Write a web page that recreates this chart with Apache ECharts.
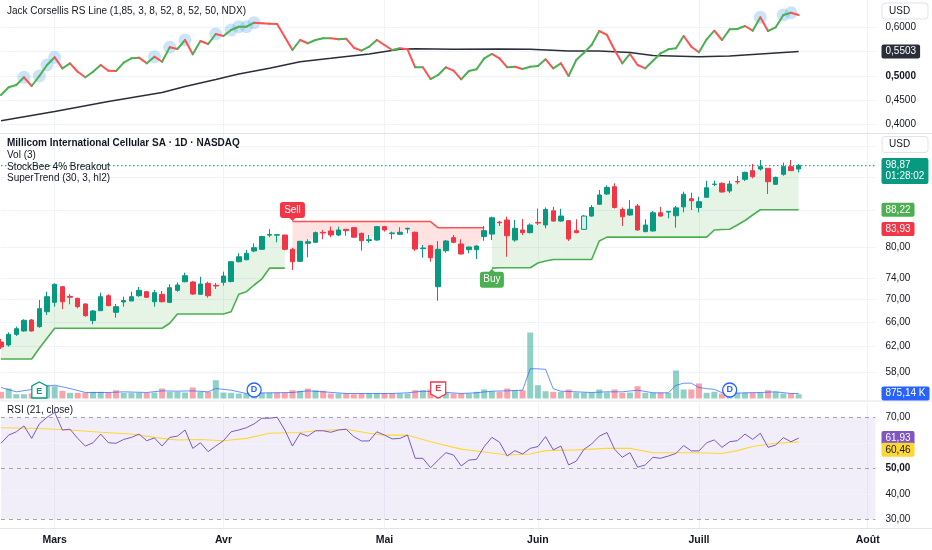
<!DOCTYPE html>
<html><head><meta charset="utf-8">
<script src="https://cdn.jsdelivr.net/npm/echarts@6/dist/echarts.min.js"></script>
<style>html,body{margin:0;padding:0;background:#fff}#c{width:932px;height:550px}</style>
</head><body><div id="c"></div>
<script>
// ---------- DATA ----------
const totalSlots = 115; // trading-day slots incl. future space
const monthTicks = [7, 29, 50, 70, 91, 113];
const monthNames = ['Mars', 'Avr', 'Mai', 'Juin', 'Juill', 'Août'];

const opens = [62.74,62.26,63.99,64.55,66.40,65.27,67.83,69.50,72.35,70.58,
70.22,69.20,66.30,68.01,70.69,67.73,69.55,69.73,70.69,71.43,
69.60,70.95,69.50,71.68,73.29,73.23,70.95,72.99,72.61,73.17,
73.32,77.16,77.56,79.33,79.67,82.63,82.63,82.66,79.67,77.24,
80.91,81.12,83.22,83.53,82.66,83.88,84.24,83.02,81.49,81.60,
84.46,82.94,82.81,83.95,83.25,79.80,80.41,72.35,79.38,82.10,
80.77,79.59,79.59,82.35,82.85,85.46,85.92,81.60,83.74,83.17,
85.39,84.82,87.97,85.69,85.77,83.59,83.88,86.80,89.47,91.88,
93.62,88.28,87.03,89.08,83.39,83.53,87.54,87.70,86.87,88.88,
90.76,88.74,91.10,94.15,94.44,92.59,94.88,95.42,97.57,97.99,
98.17,94.20,96.66,98.58,97.99];
const closes = [61.94,63.99,64.93,66.35,64.55,68.36,70.51,72.80,69.60,70.40,
68.72,67.14,67.96,70.51,68.90,68.72,69.82,70.51,71.68,70.40,
71.25,69.60,72.16,72.67,74.43,71.00,72.86,70.69,72.48,74.37,
77.16,78.16,78.86,80.00,82.35,82.75,82.73,79.67,77.16,81.32,
81.24,83.17,83.10,82.66,83.74,83.59,82.19,81.45,81.66,84.46,
83.74,83.10,83.25,84.10,79.73,79.94,77.97,79.67,81.39,81.12,
78.71,80.14,80.35,83.59,86.42,85.31,82.51,84.10,83.17,84.82,
85.24,88.28,85.69,86.80,81.81,83.17,86.80,88.74,91.64,93.46,
88.74,86.65,88.34,83.74,84.82,87.54,86.80,87.86,88.65,91.81,
90.30,90.07,93.37,94.27,92.35,94.27,94.76,97.16,96.07,98.58,
94.83,95.91,98.58,97.57,98.87];
const lows = [61.62,61.99,63.72,64.43,64.43,65.10,67.26,68.72,68.31,69.14,
68.43,66.97,65.67,67.96,68.79,66.80,68.72,69.73,70.51,70.33,
68.72,69.50,69.37,71.43,73.17,70.82,70.82,70.33,71.93,72.54,
73.17,77.04,77.44,79.06,79.53,82.19,81.12,79.47,75.53,77.10,
78.05,81.03,81.75,82.19,82.44,82.51,82.10,79.38,81.03,81.45,
83.39,81.75,82.66,83.02,79.33,77.97,77.16,69.78,78.98,80.91,
78.65,78.86,77.70,81.45,81.60,84.60,78.16,81.24,82.66,83.02,
84.82,84.10,85.56,85.56,81.39,83.02,83.74,86.65,89.31,91.64,
88.51,84.60,86.87,83.59,83.25,83.39,86.65,86.30,84.24,87.63,
88.16,87.63,91.10,93.79,92.21,92.12,94.20,95.00,95.66,97.57,
91.88,94.03,96.32,97.49,97.16];
const highs = [63.22,64.32,65.27,66.52,66.57,69.91,71.43,72.99,72.48,71.00,
70.33,69.32,68.13,71.25,70.95,69.20,70.51,71.43,72.30,71.56,
71.74,71.56,72.80,73.17,75.01,73.42,74.23,73.29,73.04,75.21,
77.30,78.86,79.53,80.91,82.50,83.93,82.73,82.66,80.00,81.45,
81.75,83.39,83.74,84.46,84.46,83.88,84.33,83.17,82.66,84.61,
84.61,83.39,84.33,84.24,83.39,80.56,80.56,81.39,81.60,82.66,
81.75,80.21,80.50,84.60,86.65,85.75,86.65,85.92,86.14,85.19,
88.51,88.74,88.88,88.44,85.92,86.07,87.03,89.31,92.83,93.96,
94.44,88.74,90.46,89.54,86.07,87.93,88.88,87.93,89.08,92.43,
92.19,91.24,95.07,95.07,94.69,95.07,96.24,97.32,99.26,100.29,
98.17,96.07,99.62,100.29,99.26];
const breakoutBars = [76];

const superTrendUp = [60.05,60.05,60.05,60.05,60.05,61.73,63.34,65.00,65.00,65.00,
65.00,65.00,65.00,65.00,65.00,65.00,65.00,65.00,65.00,65.00,
65.00,65.00,65.84,67.43,67.43,67.43,67.43,67.43,67.43,67.43,
67.83,70.95,71.43,72.67,73.80,75.89,75.89,75.89,null,null,
null,null,null,null,null,null,null,null,null,null,
null,null,null,null,null,null,null,null,null,null,
null,null,null,null,75.89,75.98,75.98,75.98,75.98,75.98,
76.91,77.30,77.60,77.60,77.60,77.60,77.60,77.60,81.39,82.21,
82.21,82.21,82.21,82.21,82.21,82.21,82.21,82.21,82.21,82.21,
82.21,82.21,82.21,83.74,83.85,83.90,84.82,85.81,87.03,88.22,
88.22,88.22,88.22,88.22,88.22];
const superTrendDown = [null,null,null,null,null,null,null,null,null,null,
null,null,null,null,null,null,null,null,null,null,
null,null,null,null,null,null,null,null,null,null,
null,null,null,null,null,null,null,null,85.58,85.58,
85.58,85.58,85.58,85.58,85.58,85.58,85.58,85.58,85.58,85.58,
85.58,85.58,85.58,85.58,85.58,85.58,85.58,84.22,84.22,84.22,
84.22,84.22,84.22,84.22,null,null,null,null,null,null,
null,null,null,null,null,null,null,null,null,null,
null,null,null,null,null,null,null,null,null,null,
null,null,null,null,null,null,null,null,null,null,
null,null,null,null,null];
const sellIndex = 38, buyIndex = 64;

const volumeK = [1170,1750,750,750,875,1400,2330,2150,1350,1000,
1000,1000,1170,1170,1050,1450,1000,1000,1000,1000,
1050,1750,1170,1170,1050,1930,1170,1170,3200,1050,
1000,875,875,875,1000,1000,1000,1000,1450,1350,
1750,1450,1350,875,875,875,750,875,875,875,
875,875,875,875,1450,1450,1580,1170,1000,875,
875,875,1170,1580,1280,1170,1750,1450,1450,11550,
2330,1280,1170,1170,1580,1050,1050,1050,1580,1050,
1580,1000,1050,2150,1000,1000,1000,1000,4900,1580,
1580,2630,1000,1170,875,875,1000,1000,1000,1050,
1450,1170,875,875,750];
const volumeMA = [[0,1925],[2,1170],[4,1575],[6,2160],[7,2330],[9,1750],[11,1050],[14,1050],[16,1170],[19,1050],
[21,1340],[23,1280],[25,1340],[27,1170],[28,1750],[30,1460],[32,875],[35,1000],[38,1050],[40,1340],
[42,1170],[45,875],[48,875],[51,875],[53,1000],[55,1280],[57,1170],[60,875],[62,1000],[64,1280],
[66,1340],[68,1460],[69,5200],[70,5200],[71,5100],[72,1700],[73,1280],[75,1170],[77,1050],[79,1170],
[81,1170],[83,1460],[85,1000],[87,1000],[88,2300],[89,2680],[90,2680],[91,1925],[92,1730],[93,1600],
[94,1020],[95,875],[97,1000],[99,1050],[101,1170],[103,875],[104,875.14]];
const earningsUp = [5], earningsDown = [57], dividends = [33, 95];

const rsLine = [0.4609,0.4767,0.4815,0.4973,0.4794,0.5000,0.5226,0.5385,0.5158,0.5261,
0.5088,0.4973,0.5088,0.5226,0.5109,0.5103,0.5274,0.5364,0.5377,0.5261,
0.5397,0.5294,0.5591,0.5556,0.5741,0.5447,0.5720,0.5658,0.5864,0.5823,
0.5947,0.6014,0.6014,0.6097,0.6084,0.6076,0.6070,0.5802,0.5535,0.5741,
0.5673,0.5741,0.5776,0.5776,0.5755,0.5767,0.5582,0.5521,0.5603,0.5741,
0.5638,0.5535,0.5570,0.5549,0.5179,0.5179,0.4938,0.5021,0.5179,0.5109,
0.4932,0.5103,0.5138,0.5364,0.5453,0.5364,0.5179,0.5191,0.5144,0.5191,
0.5206,0.5344,0.5158,0.5261,0.5000,0.5329,0.5479,0.5638,0.5926,0.5844,
0.5535,0.5261,0.5453,0.5226,0.5158,0.5315,0.5467,0.5549,0.5570,0.5823,
0.5603,0.5488,0.5755,0.5932,0.5741,0.5961,0.5967,0.6029,0.5932,0.6208,
0.5926,0.6002,0.6255,0.6302,0.6255];
const rsMA = [[0,0.4080],[7,0.4270],[14,0.4475],[21,0.4660],[24,0.4784],[28,0.4928],[31,0.5041],[35,0.5158],
[39,0.5294],[43,0.5364],[48,0.5453],[52,0.5549],[54,0.5562],[59,0.5549],[65,0.5556],[69,0.5549],
[74,0.5514],[78,0.5514],[82,0.5484],[85,0.5420],[91,0.5397],[95,0.5412],[99,0.5453],[104,0.5503]];
const rsNewHighs = [3,5,6,7,20,22,24,28,30,31,32,33,99,102,103];

const rsi = [59.9,63.1,64.4,66.7,61.8,67.5,70.1,72.0,65.1,65.4,
61.8,58.8,60.1,63.5,60.1,59.9,61.4,62.2,63.5,60.9,
62.0,58.8,62.2,62.7,65.1,57.9,60.1,56.6,58.8,60.9,
64.4,65.1,66.0,67.5,69.7,69.7,70.1,65.1,58.8,63.8,
62.7,64.8,64.8,64.2,65.1,65.4,62.5,60.8,60.8,64.4,
63.1,61.6,61.8,63.1,54.0,54.0,50.3,53.3,56.2,55.3,
51.0,53.3,53.6,58.6,62.2,60.3,54.9,57.0,55.7,57.9,
58.6,62.5,57.3,58.8,51.4,52.9,57.5,59.6,62.7,64.1,
57.5,54.4,56.2,50.5,51.4,54.4,54.0,54.9,55.9,59.0,
56.9,56.9,60.1,61.2,58.3,60.5,60.9,63.5,61.4,63.8,
58.3,59.2,62.1,60.5,61.93];
const rsiMA = [[0,66.0],[4,65.8],[9,65.1],[13,64.2],[17,63.5],[21,61.8],[23,61.2],[26,61.4],[29,60.9],[32,61.8],
[35,63.8],[39,64.1],[41,64.8],[45,65.4],[48,63.8],[50,63.1],[53,63.1],[56,60.5],[60,57.6],[63,56.5],
[66,55.3],[69,55.7],[71,57.0],[75,57.3],[79,57.9],[82,57.9],[85,56.2],[88,56.2],[91,56.2],[94,55.9],
[96,57.0],[98,58.6],[101,59.9],[104,60.46]];

const priceTicks = [58, 62, 66, 70, 74, 80];
const priceTicksHidden = [88, 96, 104];
const rsTicks = [0.40, 0.45, 0.50, 0.55, 0.60];
const rsiTicks = [30, 40, 50, 60, 70];

// ---------- STYLE ----------
const FONT = 'Liberation Sans, Arial, sans-serif';
const TXT = '#131722';
const GRIDC = '#f0f3fa';
const UP = '#089981', DOWN = '#f23645';
const STG = '#4caf50', STR = '#ff5252';
const fmt = (v, d) => v.toFixed(d).replace('.', ',');
const categories = Array.from({length: totalSlots}, (_, i) => String(i));
const isMonth = (idx) => monthTicks.indexOf(idx) >= 0;

const gridL = 1, gridR = 56.6;
const grids = [
  {left: gridL, right: gridR, top: 0, height: 133},
  {left: gridL, right: gridR, top: 134, height: 266},
  {left: gridL, right: gridR, top: 330, height: 68.5},
  {left: gridL, right: gridR, top: 403, height: 125}
];
function mkX(gi, labels) {
  return {
    type: 'category', gridIndex: gi, data: categories, boundaryGap: false,
    axisLine: {show: false}, axisTick: {show: false},
    axisLabel: labels ? {
      show: true, interval: (idx) => isMonth(idx),
      formatter: (v, idx) => monthNames[monthTicks.indexOf(Number(v))] || '',
      color: TXT, fontSize: 10.5, fontWeight: 600, fontFamily: FONT, margin: 7
    } : {show: false},
    splitLine: gi === 2 ? {show: false} : {show: true, interval: (idx) => isMonth(idx), lineStyle: {color: GRIDC, width: 1}}
  };
}
const yAxes = [
  {gridIndex: 0, type: 'value', min: 0.38272, max: 0.65638, show: false},
  {gridIndex: 1, type: 'log', min: 54.03, max: 107.24, show: false},
  {gridIndex: 2, type: 'value', min: 0, max: 11987.5, show: false},
  {gridIndex: 3, type: 'value', min: 26.667, max: 75.686, show: false}
];

const gridLabel = {position: 'end', distance: 6, padding: [2, 4], color: TXT, fontSize: 10, fontFamily: FONT};
function gridMarkLine(ticks, dec, opts) {
  return {
    silent: true, symbol: ['none', 'none'], animation: false, z: 1,
    lineStyle: {color: GRIDC, width: 1, type: 'solid'},
    label: gridLabel,
    data: ticks.map(v => {
      const o = {yAxis: v, label: {formatter: fmt(v, dec)}};
      if (opts && opts[v]) Object.assign(o, opts[v]);
      return o;
    })
  };
}

// candles
const candleData = opens.map((o, i) => {
  const item = {value: [o, closes[i], lows[i], highs[i]]};
  if (breakoutBars.indexOf(i) >= 0) item.itemStyle = {color: '#d3efe9', borderColor: UP};
  return item;
});
const mids = opens.map((o, i) => (o + closes[i]) / 2);
const fillData = [];
for (let i = 0; i < opens.length - 1; i++) {
  if (superTrendUp[i] != null && superTrendUp[i + 1] != null)
    fillData.push([i, superTrendUp[i], mids[i], i + 1, superTrendUp[i + 1], mids[i + 1], 1]);
  else if (superTrendDown[i] != null && superTrendDown[i + 1] != null)
    fillData.push([i, superTrendDown[i], mids[i], i + 1, superTrendDown[i + 1], mids[i + 1], 0]);
}
const volData = volumeK.map((v, i) => {
  const up = i === 0 ? false : closes[i] >= closes[i - 1];
  return {value: v, itemStyle: {color: up ? 'rgba(8,153,129,0.45)' : 'rgba(242,54,69,0.45)'}};
});
const rsSeg = [];
for (let i = 0; i < rsLine.length - 1; i++) rsSeg.push([i, rsLine[i], i + 1, rsLine[i + 1]]);

const markerLevel = 1490;
const houseUp = 'path://M8,0 L16,4 L16,16 L0,16 L0,4 Z';
const shieldDown = 'path://M0,0 L16,0 L16,12 L8,16 L0,12 Z';
const eventPoints = [].concat(
  earningsUp.map(i => ({coord: [i, markerLevel], symbol: houseUp, symbolSize: [15, 16],
    itemStyle: {color: '#fff', borderColor: UP, borderWidth: 1.3},
    label: {show: true, formatter: 'E', color: UP, fontSize: 9, fontWeight: 'bold', offset: [0, 1.5]}})),
  earningsDown.map(i => ({coord: [i, markerLevel], symbol: shieldDown, symbolSize: [15, 16],
    itemStyle: {color: '#fff', borderColor: DOWN, borderWidth: 1.3},
    label: {show: true, formatter: 'E', color: DOWN, fontSize: 9, fontWeight: 'bold', offset: [0, -1.5]}})),
  dividends.map(i => ({coord: [i, markerLevel], symbol: 'circle', symbolSize: 14,
    itemStyle: {color: '#fff', borderColor: '#2962ff', borderWidth: 1.3},
    label: {show: true, formatter: 'D', color: '#2962ff', fontSize: 9, fontWeight: 'bold'}}))
);

const sellPath = 'path://M3,0 L23,0 Q26,0 26,3 L26,13 Q26,16 23,16 L16,16 L13,19 L10,16 L3,16 Q0,16 0,13 L0,3 Q0,0 3,0 Z';
const buyPath = 'path://M3,3 L10,3 L13,0 L16,3 L23,3 Q26,3 26,6 L26,16 Q26,19 23,19 L3,19 Q0,19 0,16 L0,6 Q0,3 3,3 Z';

const lastClose = closes[closes.length - 1];

const baseGraphic = [
  {type: 'line', shape: {x1: 0, y1: 133.5, x2: 932, y2: 133.5}, style: {stroke: '#e0e3eb', lineWidth: 1}, z: 50},
  {type: 'line', shape: {x1: 0, y1: 401, x2: 932, y2: 401}, style: {stroke: '#e0e3eb', lineWidth: 1}, z: 50},
  {type: 'line', shape: {x1: 0, y1: 528.5, x2: 932, y2: 528.5}, style: {stroke: '#e0e3eb', lineWidth: 1}, z: 50},
  {type: 'text', x: 7, y: 11, style: {text: 'Jack Corsellis RS Line (1,85, 3, 8, 52, 8, 52, 50, NDX)', fill: TXT, font: '10px ' + FONT, verticalAlign: 'middle'}, z: 60},
  {type: 'text', x: 7, y: 143.5, style: {text: 'Millicom International Cellular SA · 1D · NASDAQ', fill: TXT, font: 'bold 10px ' + FONT, verticalAlign: 'middle'}, z: 60},
  {type: 'text', x: 7, y: 155.5, style: {text: 'Vol (3)', fill: TXT, font: '10px ' + FONT, verticalAlign: 'middle'}, z: 60},
  {type: 'text', x: 7, y: 167, style: {text: 'StockBee 4% Breakout', fill: TXT, font: '10px ' + FONT, verticalAlign: 'middle'}, z: 60},
  {type: 'text', x: 7, y: 178.5, style: {text: 'SuperTrend (30, 3, hl2)', fill: TXT, font: '10px ' + FONT, verticalAlign: 'middle'}, z: 60},
  {type: 'text', x: 7, y: 410, style: {text: 'RSI (21, close)', fill: TXT, font: '10px ' + FONT, verticalAlign: 'middle'}, z: 60},
  {type: 'rect', shape: {x: 882, y: 3, width: 46, height: 16, r: 3}, style: {fill: '#fff', stroke: '#e0e3eb', lineWidth: 1}, z: 60},
  {type: 'text', x: 889, y: 11, style: {text: 'USD', fill: TXT, font: '10px ' + FONT, verticalAlign: 'middle'}, z: 61},
  {type: 'rect', shape: {x: 882, y: 136.5, width: 46, height: 16, r: 3}, style: {fill: '#fff', stroke: '#e0e3eb', lineWidth: 1}, z: 60},
  {type: 'text', x: 889, y: 144.5, style: {text: 'USD', fill: TXT, font: '10px ' + FONT, verticalAlign: 'middle'}, z: 61}
];

const option = {
  animation: false,
  backgroundColor: '#ffffff',
  grid: grids,
  xAxis: [mkX(0, false), mkX(1, false), mkX(2, false), mkX(3, true)],
  yAxis: yAxes,
  graphic: baseGraphic,
  series: [
    // --- RS pane ---
    {type: 'scatter', xAxisIndex: 0, yAxisIndex: 0, z: 2, silent: true,
      data: rsNewHighs.map(i => [i, rsLine[i]]), symbolSize: 13,
      itemStyle: {color: 'rgba(110,180,235,0.45)'}},
    {type: 'line', xAxisIndex: 0, yAxisIndex: 0, z: 3, silent: true, data: rsMA, symbol: 'none',
      lineStyle: {color: '#2a2e39', width: 1.5},
      markLine: gridMarkLine(rsTicks, 4, {0.5: {label: {formatter: '0,5000', fontWeight: 'bold'}}})},
    {type: 'custom', xAxisIndex: 0, yAxisIndex: 0, z: 4, silent: true, data: rsSeg,
      encode: {x: 0, y: 1},
      renderItem: (p, api) => {
        const a = api.coord([api.value(0), api.value(1)]);
        const b = api.coord([api.value(2), api.value(3)]);
        return {type: 'line', shape: {x1: a[0], y1: a[1], x2: b[0], y2: b[1]},
          style: {stroke: api.value(3) >= api.value(1) ? STG : STR, lineWidth: 2, lineCap: 'round'}};
      }},
    // --- main price pane ---
    {type: 'line', xAxisIndex: 1, yAxisIndex: 1, z: 0, silent: true, data: closes, symbol: 'none',
      lineStyle: {opacity: 0},
      markLine: {
        silent: true, symbol: ['none', 'none'], animation: false, z: 1,
        lineStyle: {color: GRIDC, width: 1, type: 'solid'},
        label: gridLabel,
        data: priceTicks.map(v => ({yAxis: v, label: {formatter: fmt(v, 2)}}))
          .concat(priceTicksHidden.map(v => ({yAxis: v, label: {show: false}})))
      }},
    // last-price dotted line
    {type: 'line', xAxisIndex: 1, yAxisIndex: 1, z: 2, silent: true, symbol: 'none',
      data: [[0, lastClose], [totalSlots - 1, lastClose]],
      lineStyle: {color: '#26a69a', type: [1.5, 2.5], width: 1.3}},
    {type: 'custom', xAxisIndex: 1, yAxisIndex: 1, z: 1, silent: true, data: fillData,
      encode: {x: 0, y: 1},
      renderItem: (p, api) => {
        const a = api.coord([api.value(0), api.value(1)]);
        const b = api.coord([api.value(3), api.value(4)]);
        const c = api.coord([api.value(3), api.value(5)]);
        const d = api.coord([api.value(0), api.value(2)]);
        return {type: 'polygon', shape: {points: [a, b, c, d]},
          style: {fill: api.value(6) ? 'rgba(76,175,80,0.14)' : 'rgba(255,82,82,0.16)'}};
      }},
    {type: 'line', xAxisIndex: 1, yAxisIndex: 1, z: 2, silent: true, data: superTrendUp, symbol: 'none',
      connectNulls: false, lineStyle: {color: STG, width: 1.6},
      markPoint: {silent: true, data: [{coord: [buyIndex, superTrendUp[buyIndex]], symbol: buyPath, symbolSize: [24, 19],
        symbolOffset: [0, 10], itemStyle: {color: STG},
        label: {show: true, formatter: 'Buy', color: '#fff', fontSize: 10, fontFamily: FONT, offset: [0, 1.5]}}]}},
    {type: 'line', xAxisIndex: 1, yAxisIndex: 1, z: 2, silent: true, data: superTrendDown, symbol: 'none',
      connectNulls: false, lineStyle: {color: STR, width: 1.6},
      markPoint: {silent: true, data: [{coord: [sellIndex, superTrendDown[sellIndex]], symbol: sellPath, symbolSize: [25, 19],
        symbolOffset: [0, -10], itemStyle: {color: DOWN},
        label: {show: true, formatter: 'Sell', color: '#fff', fontSize: 10, fontFamily: FONT, offset: [0, -1.5]}}]}},
    {type: 'candlestick', xAxisIndex: 1, yAxisIndex: 1, z: 3, silent: true, clip: false, barWidth: 5,
      data: candleData,
      itemStyle: {color: UP, color0: DOWN, borderColor: UP, borderColor0: DOWN, borderWidth: 1}},
    // --- volume ---
    {type: 'bar', xAxisIndex: 2, yAxisIndex: 2, z: 2, silent: true, barWidth: 6, data: volData},
    {type: 'line', xAxisIndex: 2, yAxisIndex: 2, z: 3, silent: true, data: volumeMA, symbol: 'none',
      lineStyle: {color: 'rgba(41,98,255,0.7)', width: 1},
      markPoint: {silent: true, data: eventPoints}},
    // --- RSI ---
    {type: 'line', xAxisIndex: 3, yAxisIndex: 3, z: 3, silent: true, data: rsiMA, symbol: 'none',
      lineStyle: {color: '#fdd835', width: 1.1},
      markArea: {silent: true, z: 0, itemStyle: {color: 'rgba(126,87,194,0.1)'}, data: [[{yAxis: 30}, {yAxis: 70}]]},
      markLine: gridMarkLine(rsiTicks, 2, {
        30: {lineStyle: {color: '#a3a6af', type: [4, 4], width: 1}},
        50: {lineStyle: {color: '#a3a6af', type: [4, 4], width: 1}, label: {formatter: '50,00', fontWeight: 'bold'}},
        60: {label: {show: false}},
        70: {lineStyle: {color: '#a3a6af', type: [4, 4], width: 1}}
      })},
    {type: 'line', xAxisIndex: 3, yAxisIndex: 3, z: 4, silent: true, data: rsi, symbol: 'none',
      lineStyle: {color: '#7e57c2', width: 1}}
  ]
};

const chart = echarts.init(document.getElementById('c'), null, {renderer: 'canvas', width: 932, height: 550});
chart.setOption(option);

// value badges on the price scales, placed through the library's own scales
function yPix(axisIdx, v) { return chart.convertToPixel({yAxisIndex: axisIdx}, v); }
function badge(text, axisIdx, v, bg, fg, dy) {
  const y = yPix(axisIdx, v) + (dy || 0);
  return {type: 'text', x: 881.5, y: y, z: 80,
    style: {text: text, fill: fg, font: '10px ' + FONT, backgroundColor: bg, padding: [2, 4],
      verticalAlign: 'middle', borderRadius: 2}};
}
const lastVolMA = volumeMA[volumeMA.length - 1][1];
const lastRsi = rsi[rsi.length - 1];
const lastRsiMA = rsiMA[rsiMA.length - 1][1];
const lastRsMA = rsMA[rsMA.length - 1][1];
const lastUp = superTrendUp[superTrendUp.length - 1];
const redLevel = 83.93;
const badges = [
  badge(fmt(lastRsMA, 4), 0, lastRsMA, '#2a2e39', '#fff'),
  {type: 'text', x: 881.5, y: yPix(1, lastClose) - 7.5, z: 80,
    style: {text: fmt(lastClose, 2) + '\n01:28:02', fill: '#fff', font: '10px ' + FONT, backgroundColor: UP,
      padding: [2, 4, 2, 4], lineHeight: 11, verticalAlign: 'top', borderRadius: 2}},
  badge(fmt(lastUp, 2), 1, lastUp, STG, '#fff'),
  badge(fmt(redLevel, 2), 1, redLevel, DOWN, '#fff'),
  badge(fmt(lastVolMA, 2) + ' K', 2, lastVolMA, '#2962ff', '#fff'),
  badge(fmt(lastRsi, 2), 3, lastRsi, '#7e57c2', '#fff'),
  badge(fmt(lastRsiMA, 2), 3, lastRsiMA, '#fdd835', TXT, 8)
];
chart.setOption({graphic: baseGraphic.concat(badges)});
</script>
</body></html>
